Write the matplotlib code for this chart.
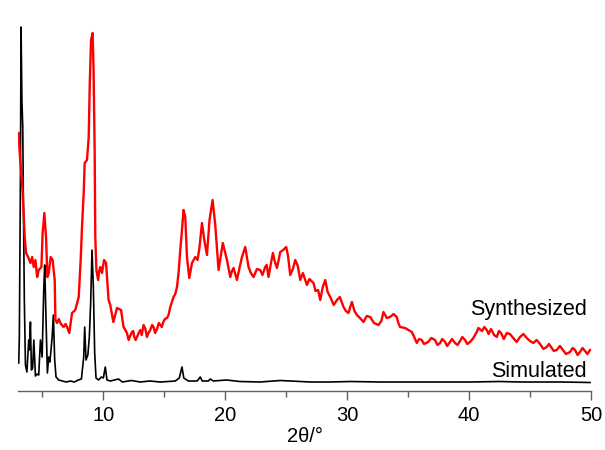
# coding=utf-8
# Description: Powder XRD patterns, simulated vs synthesized.
#
import numpy as np
import matplotlib as mpl
mpl.use('Agg')
mpl.rcParams['font.family'] = ['Liberation Sans', 'DejaVu Sans']
import matplotlib.pyplot as plt
from matplotlib.ticker import MultipleLocator

# Synthesized pattern (2theta in degrees, intensity in arbitrary units)
synth_2theta = [
    3.06, 3.11, 3.20, 3.39, 3.55, 3.66, 3.83, 4.02, 4.16, 4.29, 4.43, 4.57, 4.70, 4.92,
    5.02, 5.16, 5.30, 5.41, 5.52, 5.68, 5.84, 6.01, 6.07, 6.20, 6.35, 6.48, 6.60, 6.75,
    6.90, 7.02, 7.21, 7.43, 7.70, 7.98, 8.14, 8.25, 8.39, 8.47, 8.66, 8.80, 8.88, 8.99,
    9.12, 9.20, 9.29, 9.34, 9.43, 9.57, 9.66, 9.75, 9.89, 10.06, 10.22, 10.43, 10.57,
    10.82, 11.12, 11.45, 11.66, 11.94, 12.07, 12.20, 12.35, 12.45, 12.54, 12.65, 12.76,
    12.90, 13.03, 13.15, 13.30, 13.45, 13.58, 13.70, 13.85, 14.00, 14.12, 14.25, 14.40,
    14.55, 14.67, 14.80, 14.92, 15.05, 15.22, 15.35, 15.49, 15.60, 15.76, 15.90, 16.04,
    16.17, 16.31, 16.45, 16.58, 16.72, 16.86, 17.05, 17.27, 17.54, 17.73, 17.89, 18.09,
    18.28, 18.50, 18.71, 18.96, 19.18, 19.45, 19.80, 20.14, 20.25, 20.41, 20.55, 20.68,
    20.80, 20.96, 21.15, 21.37, 21.64, 21.80, 21.91, 22.10, 22.32, 22.60, 22.87, 23.05,
    23.28, 23.40, 23.55, 23.75, 23.91, 24.05, 24.24, 24.40, 24.51, 24.75, 25.00, 25.15,
    25.33, 25.55, 25.74, 25.95, 26.15, 26.37, 26.70, 26.90, 27.24, 27.40, 27.62, 27.79,
    28.00, 28.20, 28.40, 28.61, 28.90, 29.16, 29.40, 29.70, 29.90, 30.11, 30.25, 30.39,
    30.60, 30.80, 31.05, 31.34, 31.60, 31.89, 32.20, 32.57, 32.80, 32.98, 33.25, 33.52,
    33.80, 34.07, 34.20, 34.34, 34.75, 35.30, 35.50, 35.71, 35.90, 36.12, 36.30, 36.64,
    36.90, 37.21, 37.40, 37.62, 37.80, 38.03, 38.20, 38.44, 38.60, 38.85, 39.05, 39.26,
    39.45, 39.67, 39.85, 40.08, 40.35, 40.63, 40.76, 41.07, 41.25, 41.45, 41.60, 41.80,
    42.05, 42.27, 42.45, 42.62, 42.85, 43.09, 43.35, 43.63, 43.90, 44.18, 44.45, 44.73,
    45.00, 45.27, 45.55, 45.82, 46.10, 46.37, 46.55, 46.72, 46.95, 47.19, 47.45, 47.70,
    47.95, 48.28, 48.50, 48.69, 48.90, 49.10, 49.30, 49.51, 49.70, 49.92,
]
synth_counts = [
    258, 244, 228, 198, 154, 138, 134, 128, 134, 124, 131, 114, 121, 124,
    158, 178, 154, 114, 118, 134, 131, 111, 71, 68, 72, 68, 66, 64,
    67, 64, 58, 78, 81, 94, 131, 164, 198, 228, 231, 254, 304, 351,
    358, 321, 238, 154, 121, 111, 120, 124, 118, 131, 128, 91, 86,
    69, 83, 81, 64, 58, 51, 55, 59, 60, 54, 51, 54,
    58, 61, 56, 66, 62, 54, 58, 61, 66, 64, 58, 62,
    68, 66, 64, 69, 72, 73, 76, 84, 88, 94, 97, 104,
    118, 141, 161, 181, 174, 134, 113, 128, 134, 131, 144, 168,
    151, 136, 171, 191, 166, 121, 148, 131, 124, 114, 120, 123,
    118, 111, 122, 134, 144, 132, 124, 118, 114, 122, 121, 116,
    124, 126, 114, 128, 138, 130, 123, 132, 139, 141, 144, 135,
    116, 122, 131, 125, 111, 118, 106, 112, 108, 100, 101, 91,
    104, 111, 99, 94, 86, 91, 94, 84, 80, 78, 84, 89,
    80, 76, 73, 69, 75, 74, 68, 66, 70, 79, 73, 74,
    77, 74, 68, 64, 63, 59, 54, 48, 52, 51, 47, 49,
    53, 51, 46, 48, 52, 49, 45, 49, 52, 48, 46, 50,
    54, 51, 47, 49, 53, 59, 63, 60, 64, 61, 57, 62,
    56, 54, 60, 58, 52, 58, 57, 53, 49, 54, 57, 53,
    50, 48, 51, 47, 42, 44, 47, 44, 40, 41, 45, 41,
    37, 39, 43, 41, 36, 39, 43, 40, 37, 41,
]

# Simulated pattern
sim_2theta = [
    3.06, 3.11, 3.20, 3.25, 3.32, 3.39, 3.44, 3.52, 3.61, 3.73, 3.88, 3.93, 4.02, 4.10,
    4.20, 4.30, 4.43, 4.57, 4.70, 4.84, 4.98, 5.11, 5.19, 5.30, 5.41, 5.52, 5.61, 5.71,
    5.80, 5.90, 6.01, 6.12, 6.34, 6.64, 6.97, 7.30, 7.62, 7.95, 8.20, 8.39, 8.47, 8.58,
    8.73, 8.85, 8.96, 9.07, 9.18, 9.29, 9.40, 9.61, 9.84, 10.00, 10.16, 10.30, 10.57,
    11.25, 11.56, 12.30, 13.03, 13.80, 14.67, 15.30, 15.90, 16.23, 16.45, 16.60, 16.97,
    17.70, 17.95, 18.11, 18.61, 18.77, 19.02, 20.10, 21.20, 22.87, 24.50, 25.33, 26.97,
    28.61, 30.25, 32.70, 35.16, 37.62, 40.08, 42.50, 44.18, 47.46, 49.92,
]
sim_counts = [
    28, 54, 214, 364, 291, 264, 191, 91, 26, 19, 51, 41, 69, 21,
    23, 51, 15, 17, 16, 51, 34, 101, 126, 71, 18, 34, 29, 41,
    54, 76, 31, 14, 11, 10, 9, 10, 9, 11, 12, 34, 64, 31,
    36, 54, 88, 141, 104, 38, 13, 11, 14, 13, 24, 11, 10,
    12, 9, 10.5, 9, 10, 9, 9.5, 10, 13, 24, 13, 10,
    10, 14, 10, 10, 12, 10, 11, 9.5, 9, 10.5, 10, 9,
    9, 9.5, 9, 9, 9, 9, 9.5, 9, 9, 8.5,
]

labels = ['Synthesized', 'Simulated']
label_y = [76, 14]


def plot_xrd():

    fig = plt.figure(figsize=(6.05, 4.5), dpi=100)
    ax = fig.add_axes([18 / 605., 59 / 450., 573 / 605., 391 / 450.])

    ax.plot(sim_2theta, sim_counts, color='black', lw=1.2, zorder=2)
    ax.plot(synth_2theta, synth_counts, color='#ff0000', lw=1.7, zorder=3)

    for text, y in zip(labels, label_y):
        ax.text(49.67, y, text, ha='right', va='baseline', fontsize=15.5, color='black')

    ax.set_xlim(3.0, 50)
    ax.set_ylim(0, 391)

    for side in ['top', 'right', 'left']:
        ax.spines[side].set_visible(False)
    ax.spines['bottom'].set_color('#606060')
    ax.spines['bottom'].set_linewidth(1.0)

    ax.set_yticks([])
    ax.xaxis.set_major_locator(MultipleLocator(10))
    ax.xaxis.set_minor_locator(MultipleLocator(5))
    ax.tick_params(axis='x', which='major', direction='out', length=6.5, width=1.0,
                   color='#606060', labelsize=14.5, pad=4)
    ax.tick_params(axis='x', which='minor', direction='out', length=4.3, width=1.0,
                   color='#606060')
    ax.set_xlabel(u'2\u03b8/\u00b0', fontsize=14.5, labelpad=2)

    fig.savefig('out.png', dpi=100)
    plt.close(fig)


if __name__ == '__main__':
    plot_xrd()
